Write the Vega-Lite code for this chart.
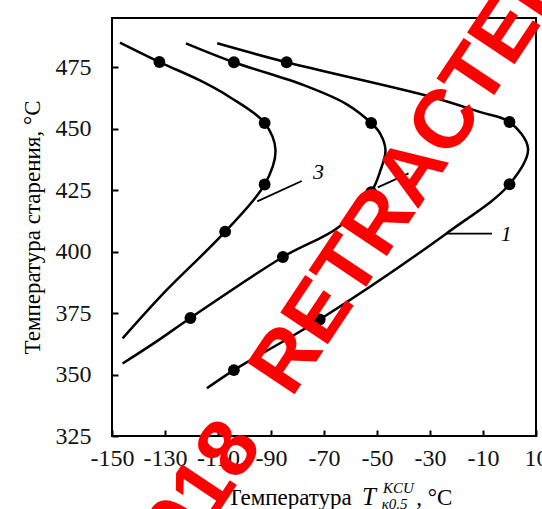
{
  "$schema": "https://vega.github.io/schema/vega-lite/v6.json",
  "width": 424,
  "height": 418,
  "autosize": {"type": "none"},
  "padding": {"left": 112, "top": 18, "right": 6, "bottom": 73},
  "background": "white",
  "config": {
    "view": {"stroke": "#000", "strokeWidth": 2},
    "font": "Liberation Serif",
    "axis": {
      "domain": false,
      "grid": false,
      "tickColor": "#000",
      "tickWidth": 2,
      "tickSize": -6,
      "labelFont": "Liberation Serif",
      "labelFontSize": 24,
      "labelColor": "#111",
      "labelFlush": false,
      "labelOverlap": false,
      "labelExpr": "toString(datum.value)",
      "titleFont": "Liberation Serif",
      "titleFontWeight": "normal",
      "titleColor": "#000"
    }
  },
  "datasets": {
    "curves": [
      {"c": "3", "i": 1, "x": -147, "y": 485.0},
      {"c": "3", "i": 2, "x": -132.1, "y": 477.1},
      {"c": "3", "i": 3, "x": -116.8, "y": 469.6},
      {"c": "3", "i": 4, "x": -105.8, "y": 463.0},
      {"c": "3", "i": 5, "x": -92.4, "y": 452.3},
      {"c": "3", "i": 6, "x": -88.3, "y": 441.2},
      {"c": "3", "i": 7, "x": -92.4, "y": 427.3},
      {"c": "3", "i": 8, "x": -107.3, "y": 408.1},
      {"c": "3", "i": 9, "x": -130.6, "y": 383.0},
      {"c": "3", "i": 10, "x": -146, "y": 364.7},
      {"c": "2", "i": 1, "x": -122.1, "y": 484.7},
      {"c": "2", "i": 2, "x": -104.0, "y": 477.0},
      {"c": "2", "i": 3, "x": -77.4, "y": 467.6},
      {"c": "2", "i": 4, "x": -61.7, "y": 460.1},
      {"c": "2", "i": 5, "x": -52.2, "y": 452.3},
      {"c": "2", "i": 6, "x": -48.8, "y": 448.0},
      {"c": "2", "i": 7, "x": -46.8, "y": 441.2},
      {"c": "2", "i": 8, "x": -48.7, "y": 433.0},
      {"c": "2", "i": 9, "x": -52.2, "y": 424.2},
      {"c": "2", "i": 10, "x": -64.4, "y": 410.0},
      {"c": "2", "i": 11, "x": -85.5, "y": 397.8},
      {"c": "2", "i": 12, "x": -120.4, "y": 373.0},
      {"c": "2", "i": 13, "x": -133.0, "y": 363.6},
      {"c": "2", "i": 14, "x": -146, "y": 354.5},
      {"c": "1", "i": 1, "x": -110.3, "y": 484.7},
      {"c": "1", "i": 2, "x": -84.1, "y": 477.0},
      {"c": "1", "i": 3, "x": -29.1, "y": 462.8},
      {"c": "1", "i": 4, "x": -11.0, "y": 456.7},
      {"c": "1", "i": 5, "x": 0.0, "y": 452.7},
      {"c": "1", "i": 6, "x": 7.0, "y": 441.9},
      {"c": "1", "i": 7, "x": 0.0, "y": 427.4},
      {"c": "1", "i": 8, "x": -23.9, "y": 407.3},
      {"c": "1", "i": 9, "x": -71.6, "y": 372.4},
      {"c": "1", "i": 10, "x": -104.0, "y": 351.8},
      {"c": "1", "i": 11, "x": -114.2, "y": 344.4}
    ],
    "points": [
      {"c": "3", "x": -132.1, "y": 477.1},
      {"c": "3", "x": -92.4, "y": 452.3},
      {"c": "3", "x": -92.4, "y": 427.3},
      {"c": "3", "x": -107.3, "y": 408.1},
      {"c": "2", "x": -104.0, "y": 477.0},
      {"c": "2", "x": -52.2, "y": 452.3},
      {"c": "2", "x": -52.2, "y": 424.2},
      {"c": "2", "x": -85.5, "y": 397.8},
      {"c": "2", "x": -120.4, "y": 373.0},
      {"c": "1", "x": -84.1, "y": 477.0},
      {"c": "1", "x": 0.0, "y": 452.7},
      {"c": "1", "x": 0.0, "y": 427.4},
      {"c": "1", "x": -71.6, "y": 372.4},
      {"c": "1", "x": -104.0, "y": 351.8}
    ],
    "leaders": [
      {"c": "3", "x": -95.2, "y": 420.4, "x2": -78.4, "y2": 428.7},
      {"c": "2", "x": -49.7, "y": 426.1, "x2": -38.1, "y2": 431.8},
      {"c": "1", "x": -23.6, "y": 407.3, "x2": -6.6, "y2": 407.3}
    ],
    "labels": [
      {"t": "3", "x": -72.1, "y": 432.3},
      {"t": "1", "x": -1.2, "y": 407.3}
    ],
    "xtitle": [
      {"t": "Температура", "x": -106.5, "y": 297.0}
    ],
    "xtitleT": [
      {"t": "T", "x": -55.7, "y": 297.0}
    ],
    "xtitleSup": [
      {"t": "KCU", "x": -47.7, "y": 301.8}
    ],
    "xtitleSub": [
      {"t": "к0.5", "x": -48.2, "y": 295.3}
    ],
    "xtitleEnd": [
      {"t": ", °C", "x": -35.2, "y": 297.0}
    ],
    "wmWord": [
      {"t": "RETRACTED", "x": -36.5, "y": 432.4}
    ],
    "wmYear": [
      {"t": "2018", "x": -100.6, "y": 327.1}
    ]
  },
  "encoding": {
    "x": {
      "field": "x",
      "type": "quantitative",
      "scale": {"domain": [-150, 10], "nice": false, "zero": false},
      "axis": {
        "values": [-150, -130, -110, -90, -70, -50, -30, -10, 10],
        "labelPadding": 16,
        "title": null
      }
    },
    "y": {
      "field": "y",
      "type": "quantitative",
      "scale": {"domain": [325, 495], "nice": false, "zero": false},
      "axis": {
        "values": [325, 350, 375, 400, 425, 450, 475],
        "labelPadding": 27,
        "title": "Температура старения, °C",
        "titleFontSize": 23,
        "titlePadding": 11
      }
    }
  },
  "layer": [
    {
      "data": {"name": "curves"},
      "mark": {"type": "line", "interpolate": "catmull-rom", "color": "#000", "strokeWidth": 2.5},
      "encoding": {
        "detail": {"field": "c", "type": "nominal"},
        "order": {"field": "i", "type": "quantitative"}
      }
    },
    {
      "data": {"name": "points"},
      "mark": {"type": "circle", "color": "#000", "opacity": 1, "size": 140}
    },
    {
      "data": {"name": "leaders"},
      "mark": {"type": "rule", "color": "#000", "strokeWidth": 1.8},
      "encoding": {
        "x2": {"field": "x2"},
        "y2": {"field": "y2"}
      }
    },
    {
      "data": {"name": "labels"},
      "mark": {"type": "text", "font": "Liberation Serif", "fontStyle": "italic", "fontSize": 22, "color": "#000", "align": "center", "baseline": "middle"},
      "encoding": {"text": {"field": "t"}}
    },
    {
      "data": {"name": "xtitle"},
      "mark": {"type": "text", "font": "Liberation Serif", "fontSize": 23, "color": "#000", "align": "left", "baseline": "alphabetic"},
      "encoding": {"text": {"field": "t"}}
    },
    {
      "data": {"name": "xtitleT"},
      "mark": {"type": "text", "font": "Liberation Serif", "fontStyle": "italic", "fontSize": 25, "color": "#000", "align": "left", "baseline": "alphabetic"},
      "encoding": {"text": {"field": "t"}}
    },
    {
      "data": {"name": "xtitleSup"},
      "mark": {"type": "text", "font": "Liberation Serif", "fontStyle": "italic", "fontSize": 15, "color": "#000", "align": "left", "baseline": "alphabetic"},
      "encoding": {"text": {"field": "t"}}
    },
    {
      "data": {"name": "xtitleSub"},
      "mark": {"type": "text", "font": "Liberation Serif", "fontStyle": "italic", "fontSize": 15, "color": "#000", "align": "left", "baseline": "alphabetic"},
      "encoding": {"text": {"field": "t"}}
    },
    {
      "data": {"name": "xtitleEnd"},
      "mark": {"type": "text", "font": "Liberation Serif", "fontSize": 23, "color": "#000", "align": "left", "baseline": "alphabetic"},
      "encoding": {"text": {"field": "t"}}
    },
    {
      "data": {"name": "wmWord"},
      "mark": {"type": "text", "font": "Liberation Sans", "fontWeight": "bold", "fontSize": 83, "color": "#ff0000", "align": "center", "baseline": "middle", "angle": -56.3},
      "encoding": {"text": {"field": "t"}}
    },
    {
      "data": {"name": "wmYear"},
      "mark": {"type": "text", "font": "Liberation Sans", "fontWeight": "bold", "fontSize": 83, "color": "#ff0000", "align": "right", "baseline": "middle", "angle": -56.3},
      "encoding": {"text": {"field": "t"}}
    }
  ]
}
